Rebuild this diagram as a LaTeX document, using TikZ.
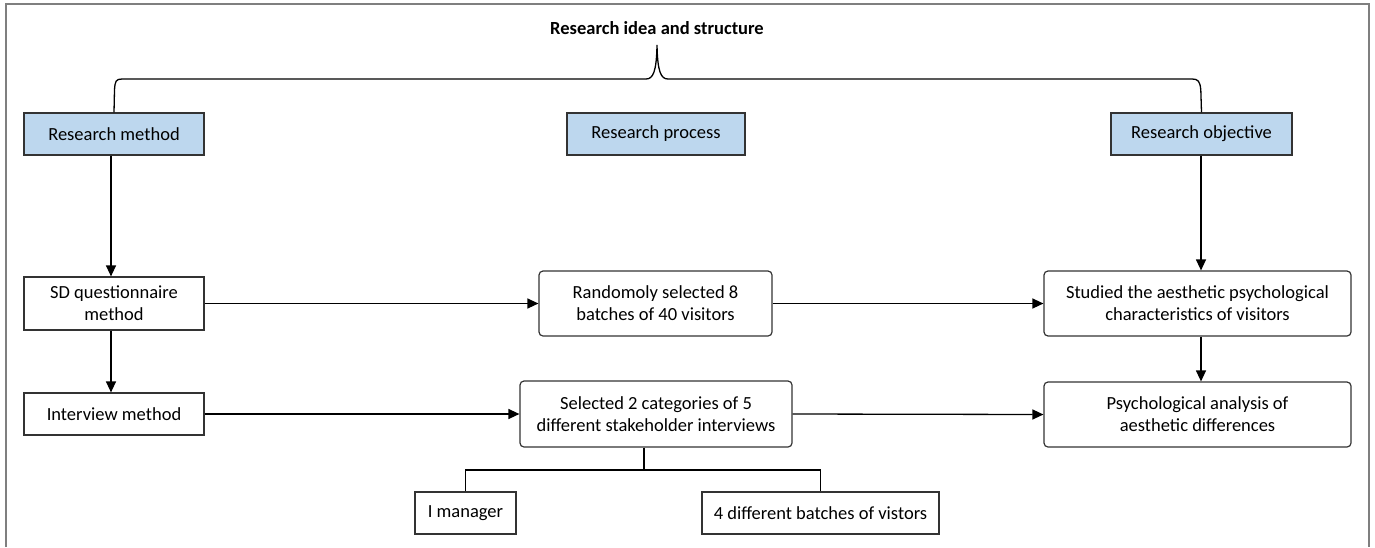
\documentclass[tikz,border=0pt]{standalone}
\usepackage{fontspec}
\setmainfont{Carlito}
\usetikzlibrary{arrows.meta}
\definecolor{hdrblue}{HTML}{BDD7EE}
\definecolor{edgegray}{HTML}{333333}
\definecolor{framegray}{HTML}{7F7F7F}
\begin{document}
\begin{tikzpicture}[x=1pt,y=-1pt,
  font=\fontsize{18.5}{22}\selectfont,
  box/.style={draw=edgegray, line width=1.2pt, inner sep=0pt, align=center},
  hdr/.style={box, fill=hdrblue},
  rbox/.style={box, rounded corners=4pt},
  arr/.style={draw=black, line width=1.3pt, -{Triangle[length=11pt,width=10pt]}},
  ln/.style={draw=black, line width=1.3pt}]
\useasboundingbox (0,0) rectangle (1375,547);
\draw[framegray, line width=1.6pt] (6,547) -- (6,4) -- (1369,4) -- (1369,547);

\node[font=\fontsize{18.5}{22}\selectfont\bfseries] (title) at (657,28) {Research idea and structure};

\node[hdr, minimum width=180pt, minimum height=42pt] (rm) at (114,134) {Research method};
\node[hdr, minimum width=178pt, minimum height=42pt] (rp) at (656,134) {Research process};
\node[hdr, minimum width=181pt, minimum height=42pt] (ro) at (1201.5,134) {Research objective};

\node[box, minimum width=180pt, minimum height=53pt] (sd) at (114,303.5) {SD questionnaire\\method};
\node[box, minimum width=180pt, minimum height=42pt] (iv) at (114,414) {Interview method};

\node[rbox, minimum width=233pt, minimum height=65pt] (rs) at (655.5,303.5) {Randomoly selected 8\\batches of 40 visitors};
\node[rbox, minimum width=272pt, minimum height=66pt] (sel) at (656,414) {Selected 2 categories of 5\\different stakeholder interviews};

\node[rbox, minimum width=307pt, minimum height=65pt] (st) at (1197.5,303.5) {Studied the aesthetic psychological\\characteristics of visitors};
\node[rbox, minimum width=307pt, minimum height=65pt] (ps) at (1197.5,414.5) {Psychological analysis of\\aesthetic differences};

\node[box, minimum width=101pt, minimum height=42pt] (im) at (465.5,513) {I manager};
\node[box, minimum width=237pt, minimum height=42pt] (fd) at (820.5,513) {4 different batches of vistors};

\coordinate (cL) at (111,0);
\coordinate (cR) at (1201,0);
\coordinate (cT) at (644,0);
\coordinate (cH) at (0,470);
\coordinate (tip) at (657,45);

% brace
\draw[ln] (rm.north) -- (114.5,90) .. controls (115,81) and (116,79) .. (122,79)
  -- (646,79) .. controls (653,79) and (656.5,72) .. (tip)
  .. controls (657.5,72) and (661,79) .. (668,79)
  -- (1192,79) .. controls (1198,79) and (1200,81) .. (1200.8,90) -- (ro.north);

% arrows
\draw[arr] (rm.south -| cL) -- (sd.north -| cL);
\draw[arr] (sd.south -| cL) -- (iv.north -| cL);
\draw[arr] (sd.east) -- (rs.west);
\draw[arr] (rs.east) -- (st.west);
\draw[arr] (iv.east) -- (sel.west);
\draw[arr] (sel.east) -- (ps.west);
\draw[arr] (ro.south -| cR) -- (st.north -| cR);
\draw[arr] (st.south -| cR) -- (ps.north -| cR);

% tree
\draw[ln] (sel.south -| cT) -- (cT |- cH);
\draw[ln] (im.north) |- (cT |- cH) -| (fd.north);
\end{tikzpicture}
\end{document}
